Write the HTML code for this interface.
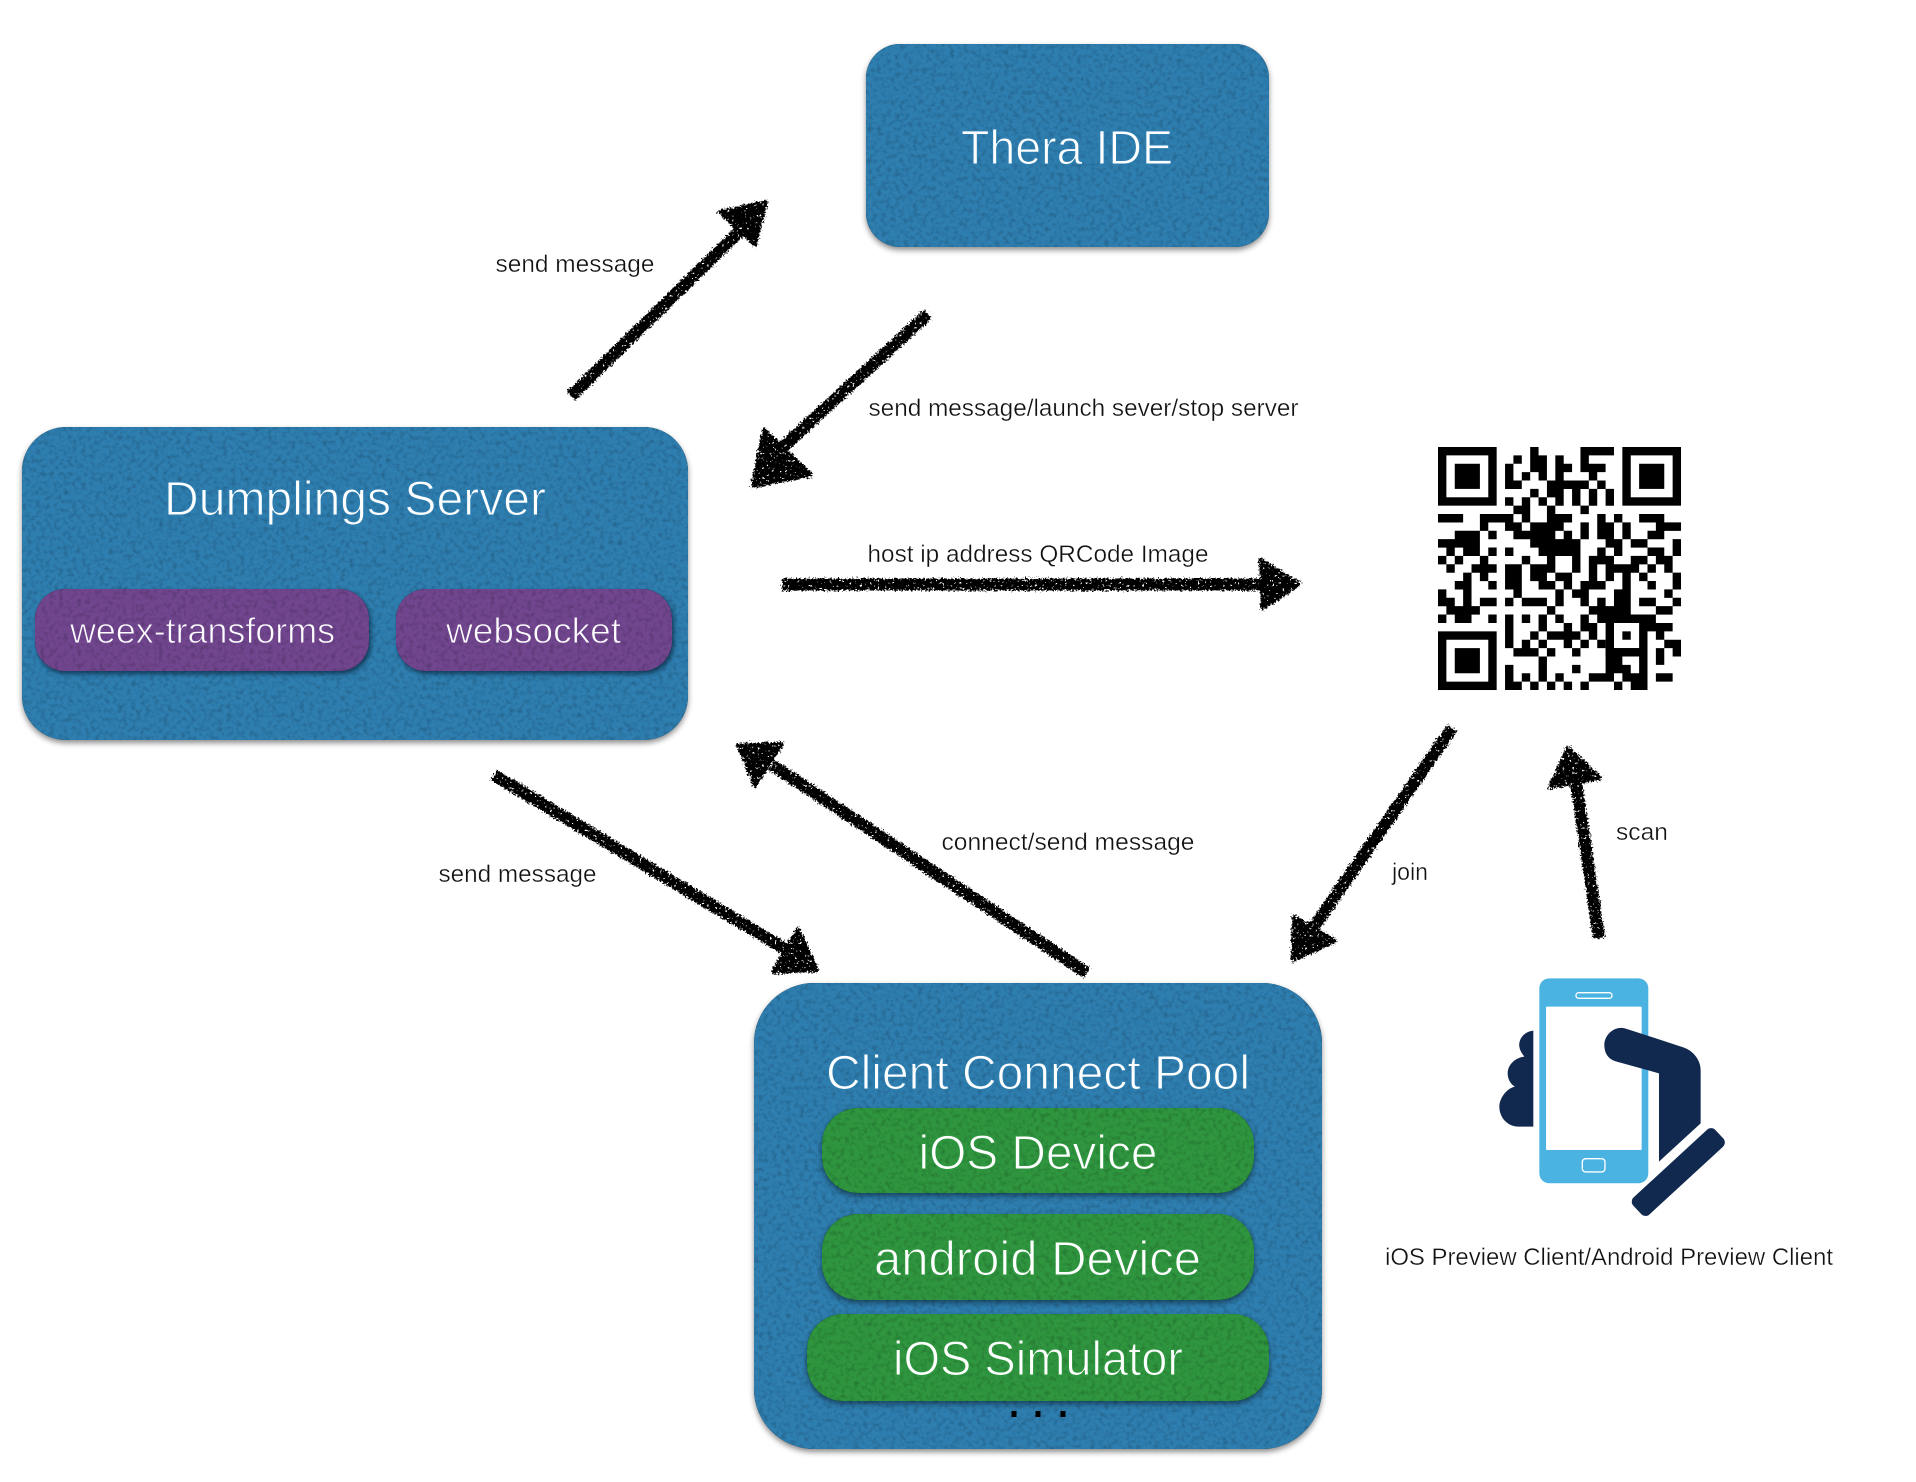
<!DOCTYPE html>
<html><head><meta charset="utf-8"><title>Dumplings architecture</title>
<style>
html,body{margin:0;padding:0;background:#fff}
svg{display:block}
text{font-family:"Liberation Sans",sans-serif}
.t{fill:#fff;font-size:48px;stroke-width:1.1}
.p{fill:#fff;font-size:36px;stroke:#71468f;stroke-width:.9}
.g{fill:#fff;font-size:48px;stroke:#2f963f;stroke-width:1.1}
.b{stroke:#2e7eb0}
.l{fill:#111;font-size:24px;stroke:#fff;stroke-width:.35}
</style></head><body>
<svg width="1916" height="1482" viewBox="0 0 1916 1482" xmlns="http://www.w3.org/2000/svg">
<defs>
<filter id="sh" x="-5%" y="-5%" width="110%" height="115%" color-interpolation-filters="sRGB">
<feTurbulence type="fractalNoise" baseFrequency=".22" numOctaves="3" seed="7" result="n"/>
<feColorMatrix in="n" type="matrix" values="0 0 0 0 0  0 0 0 0 0  0 0 0 0 0  .45 0 0 0 -.2" result="d"/>
<feComposite in="d" in2="SourceAlpha" operator="in" result="tex"/>
<feDropShadow in="SourceAlpha" dx="0" dy="3" stdDeviation="3" flood-color="#000" flood-opacity=".45" result="s"/>
<feMerge><feMergeNode in="s"/><feMergeNode in="SourceGraphic"/><feMergeNode in="tex"/></feMerge>
</filter>
<filter id="sh2" x="-5%" y="-10%" width="110%" height="125%" color-interpolation-filters="sRGB">
<feTurbulence type="fractalNoise" baseFrequency=".22" numOctaves="3" seed="9" result="n"/>
<feColorMatrix in="n" type="matrix" values="0 0 0 0 0  0 0 0 0 0  0 0 0 0 0  .45 0 0 0 -.2" result="d"/>
<feComposite in="d" in2="SourceAlpha" operator="in" result="tex"/>
<feDropShadow in="SourceAlpha" dx="2" dy="3" stdDeviation="2.5" flood-color="#07233a" flood-opacity=".7" result="s"/>
<feMerge><feMergeNode in="s"/><feMergeNode in="SourceGraphic"/><feMergeNode in="tex"/></feMerge>
</filter>
<filter id="chalk" filterUnits="userSpaceOnUse" x="0" y="0" width="1916" height="1482" color-interpolation-filters="sRGB">
<feTurbulence type="fractalNoise" baseFrequency=".55" numOctaves="2" seed="4" result="n"/>
<feDisplacementMap in="SourceGraphic" in2="n" scale="7" xChannelSelector="R" yChannelSelector="G" result="r"/>
<feTurbulence type="fractalNoise" baseFrequency=".4" numOctaves="2" seed="11" result="n2"/>
<feColorMatrix in="n2" type="matrix" values="0 0 0 0 0  0 0 0 0 0  0 0 0 0 0  14 0 0 0 -9.4" result="holes"/>
<feComposite in="r" in2="holes" operator="out"/>
</filter>
</defs>
<rect width="1916" height="1482" fill="#fff"/>

<!-- Thera IDE -->
<rect x="866" y="44" width="403" height="203" rx="34" fill="#2e7eb0" filter="url(#sh)"/>
<text class="t b" x="961" y="164" textLength="212" lengthAdjust="spacingAndGlyphs">Thera IDE</text>

<!-- Dumplings Server -->
<rect x="22" y="427" width="666" height="313" rx="44" fill="#2e7eb0" filter="url(#sh)"/>
<text class="t b" x="164" y="515" textLength="382" lengthAdjust="spacingAndGlyphs">Dumplings Server</text>
<rect x="35" y="589" width="334" height="82" rx="30" fill="#71468f" filter="url(#sh2)"/>
<rect x="396" y="589" width="276" height="82" rx="30" fill="#71468f" filter="url(#sh2)"/>
<text class="p" x="70" y="643" textLength="265" lengthAdjust="spacingAndGlyphs">weex-transforms</text>
<text class="p" x="446" y="643" textLength="175" lengthAdjust="spacingAndGlyphs">websocket</text>

<!-- Client Connect Pool -->
<rect x="754" y="983" width="568" height="466" rx="60" fill="#2e7eb0" filter="url(#sh)"/>
<text class="t b" x="826" y="1089" textLength="424" lengthAdjust="spacingAndGlyphs">Client Connect Pool</text>
<rect x="822" y="1108" width="432" height="85" rx="36" fill="#2f963f" filter="url(#sh)"/>
<rect x="822" y="1214" width="432" height="86" rx="36" fill="#2f963f" filter="url(#sh)"/>
<rect x="807" y="1314" width="462" height="87" rx="36" fill="#2f963f" filter="url(#sh)"/>
<text class="g" x="918.5" y="1169" textLength="239" lengthAdjust="spacingAndGlyphs">iOS Device</text>
<text class="g" x="874" y="1275" textLength="327" lengthAdjust="spacingAndGlyphs">android Device</text>
<text class="g" x="893" y="1375" textLength="290" lengthAdjust="spacingAndGlyphs">iOS Simulator</text>
<rect x="1011.5" y="1411" width="5" height="6" fill="#000"/>
<rect x="1035.5" y="1411" width="5" height="6" fill="#000"/>
<rect x="1060.5" y="1411" width="5" height="6" fill="#000"/>

<!-- Arrows -->
<g filter="url(#chalk)" fill="#000" stroke="#000" stroke-linejoin="round">
<g stroke-width="12" fill="none">
<path d="M571 396L745 226"/>
<path d="M928 314L782 448"/>
<path d="M782 584.500H1270"/>
<path d="M494 775L785 949"/>
<path d="M1087 973L772 765"/>
<path d="M1452 728L1313 928"/>
<path d="M1599 938L1575 775"/>
</g>
<g stroke-width="4">
<polygon points="766,202 720,212 755,245"/>
<polygon points="753,486 764,430 811,475"/>
<polygon points="1299,584 1261,560 1263,608"/>
<polygon points="817,970 773,972 798,929"/>
<polygon points="738,745 782,744 755,785"/>
<polygon points="1293,960 1294,917 1335,941"/>
<polygon points="1568,748 1550,787 1600,778"/>
</g>
</g>

<!-- QR code -->
<g transform="translate(1438,447) scale(8.38,8.38)">
<g fill="none" stroke="#000" stroke-width="1">
<rect x=".5" y=".5" width="6" height="6"/><rect x="22.5" y=".5" width="6" height="6"/><rect x=".5" y="22.5" width="6" height="6"/>
<rect x="20.5" y="20.5" width="4" height="4"/>
</g>
<rect x="2" y="2" width="3" height="3"/><rect x="24" y="2" width="3" height="3"/><rect x="2" y="24" width="3" height="3"/><rect x="22" y="22" width="1" height="1"/>
<path fill="none" stroke="#000" stroke-width="1.01" d="
M11 .5h1M17 .5h4
M9 1.5h1M11 1.5h2M14 1.5h1M17 1.5h1
M8 2.5h1M11 2.5h2M14 2.5h2M17 2.5h3
M8 3.5h1M10 3.5h1M12 3.5h1M14 3.5h1M18 3.5h1
M8 4.5h2M13 4.5h5M19 4.5h1
M11 5.5h1M13 5.5h2M16 5.5h1M18 5.5h1M20 5.5h1
M8 6.5h1M10 6.5h1M12 6.5h1M14 6.5h1M16 6.5h1M18 6.5h1M20 6.5h1
M9 7.5h2M13 7.5h1M17 7.5h1
M0 8.5h3M5 8.5h4M10 8.5h1M13 8.5h3M19 8.5h1M21 8.5h1M24 8.5h3
M5 9.5h1M8 9.5h2M11 9.5h4M17 9.5h1M19 9.5h2M22 9.5h1M26 9.5h3
M2 10.5h3M6 10.5h1M9 10.5h5M15 10.5h1M17 10.5h1M19 10.5h2M22 10.5h1M25 10.5h2
M0 11.5h5M11 11.5h6M20 11.5h2M23 11.5h2M28 11.5h1
M1 12.5h1M3 12.5h2M6 12.5h1M8 12.5h1M12 12.5h5M19 12.5h1M21 12.5h1M25 12.5h2M28 12.5h1
M0 13.5h1M2 13.5h1M5 13.5h1M10 13.5h1M13 13.5h1M16 13.5h1M18 13.5h3M23 13.5h2M26 13.5h2
M1 14.5h1M4 14.5h3M8 14.5h2M11 14.5h3M16 14.5h1M18 14.5h1M20 14.5h4M25 14.5h1M27 14.5h1
M3 15.5h1M5 15.5h1M8 15.5h2M11 15.5h2M14 15.5h2M18 15.5h1M20 15.5h1M22 15.5h1M24 15.5h1M28 15.5h1
M2 16.5h2M6 16.5h1M8 16.5h2M12 16.5h2M15 16.5h1M17 16.5h3M22 16.5h1M25 16.5h1M28 16.5h1
M0 17.5h1M3 17.5h1M9 17.5h1M14 17.5h1M16 17.5h2M21 17.5h2M27 17.5h1
M0 18.5h2M3 18.5h1M5 18.5h2M8 18.5h1M10 18.5h3M14 18.5h1M17 18.5h1M19 18.5h1M21 18.5h2M24 18.5h2M28 18.5h1
M1 19.5h4M13 19.5h1M18 19.5h5M26 19.5h2
M0 20.5h1M2 20.5h2M6 20.5h1M8 20.5h1M10 20.5h1M12 20.5h1M14 20.5h1M17 20.5h1M19 20.5h7
M8 21.5h1M12 21.5h1M15 21.5h1M17 21.5h2M25 21.5h3
M8 22.5h1M11 22.5h1M13 22.5h4M18 22.5h1M26 22.5h1
M8 23.5h1M10 23.5h1M12 23.5h1M15 23.5h1M17 23.5h1M19 23.5h1M27 23.5h2
M9 24.5h3M13 24.5h1M16 24.5h1M20 24.5h5M26 24.5h1M28 24.5h1
M12 25.5h1M20 25.5h2M24 25.5h1M26 25.5h1
M8 26.5h1M12 26.5h1M16 26.5h1M20 26.5h3M24 26.5h1
M8 27.5h1M10 27.5h1M12 27.5h1M14 27.5h1M18 27.5h3M22 27.5h3M26 27.5h2
M8 28.5h2M11 28.5h1M13 28.5h1M15 28.5h1M17 28.5h1M21 28.5h1M23 28.5h2"/>
</g>

<!-- Phone icon -->
<g transform="translate(1460,960) scale(.3333)">
<rect x="238" y="55" width="327" height="615" rx="30" fill="#4ab3e2"/>
<rect x="258" y="140" width="287" height="430" rx="3" fill="#fff"/>
<rect x="348" y="98" width="108" height="17" rx="8" fill="none" stroke="#fff" stroke-width="4"/>
<rect x="367" y="596" width="68" height="40" rx="10" fill="none" stroke="#fff" stroke-width="4"/>
<path fill="#12294f" d="M220 212C190 215 175 240 178 260C180 275 190 285 193 290C165 293 143 315 143 340C143 360 155 375 165 380C140 385 118 415 118 440C118 475 145 500 175 500L220 500Z"/>
<path fill="#12294f" d="M495 205L670 262C700 272 722 300 722 330L722 490L597 605L597 340L470 305C445 298 433 280 433 255C433 225 462 197 495 205Z"/>
<polygon fill="#12294f" stroke="#12294f" stroke-width="36" stroke-linejoin="round" points="533.400,725.100 753.400,522.600 776.600,547.400 556.600,749.900"/>
</g>

<!-- Labels -->
<text class="l" x="495.500" y="272" textLength="159" lengthAdjust="spacingAndGlyphs">send message</text>
<text class="l" x="868.500" y="416" textLength="430" lengthAdjust="spacingAndGlyphs">send message/launch sever/stop server</text>
<text class="l" x="867.500" y="562" textLength="341" lengthAdjust="spacingAndGlyphs">host ip address QRCode Image</text>
<text class="l" x="438.500" y="882" textLength="158" lengthAdjust="spacingAndGlyphs">send message</text>
<text class="l" x="941.500" y="850" textLength="253" lengthAdjust="spacingAndGlyphs">connect/send message</text>
<text class="l" x="1392" y="880" textLength="36" lengthAdjust="spacingAndGlyphs">join</text>
<text class="l" x="1616" y="840" textLength="52" lengthAdjust="spacingAndGlyphs">scan</text>
<text class="l" x="1385" y="1265" textLength="448" lengthAdjust="spacingAndGlyphs">iOS Preview Client/Android Preview Client</text>
</svg>
</body></html>
